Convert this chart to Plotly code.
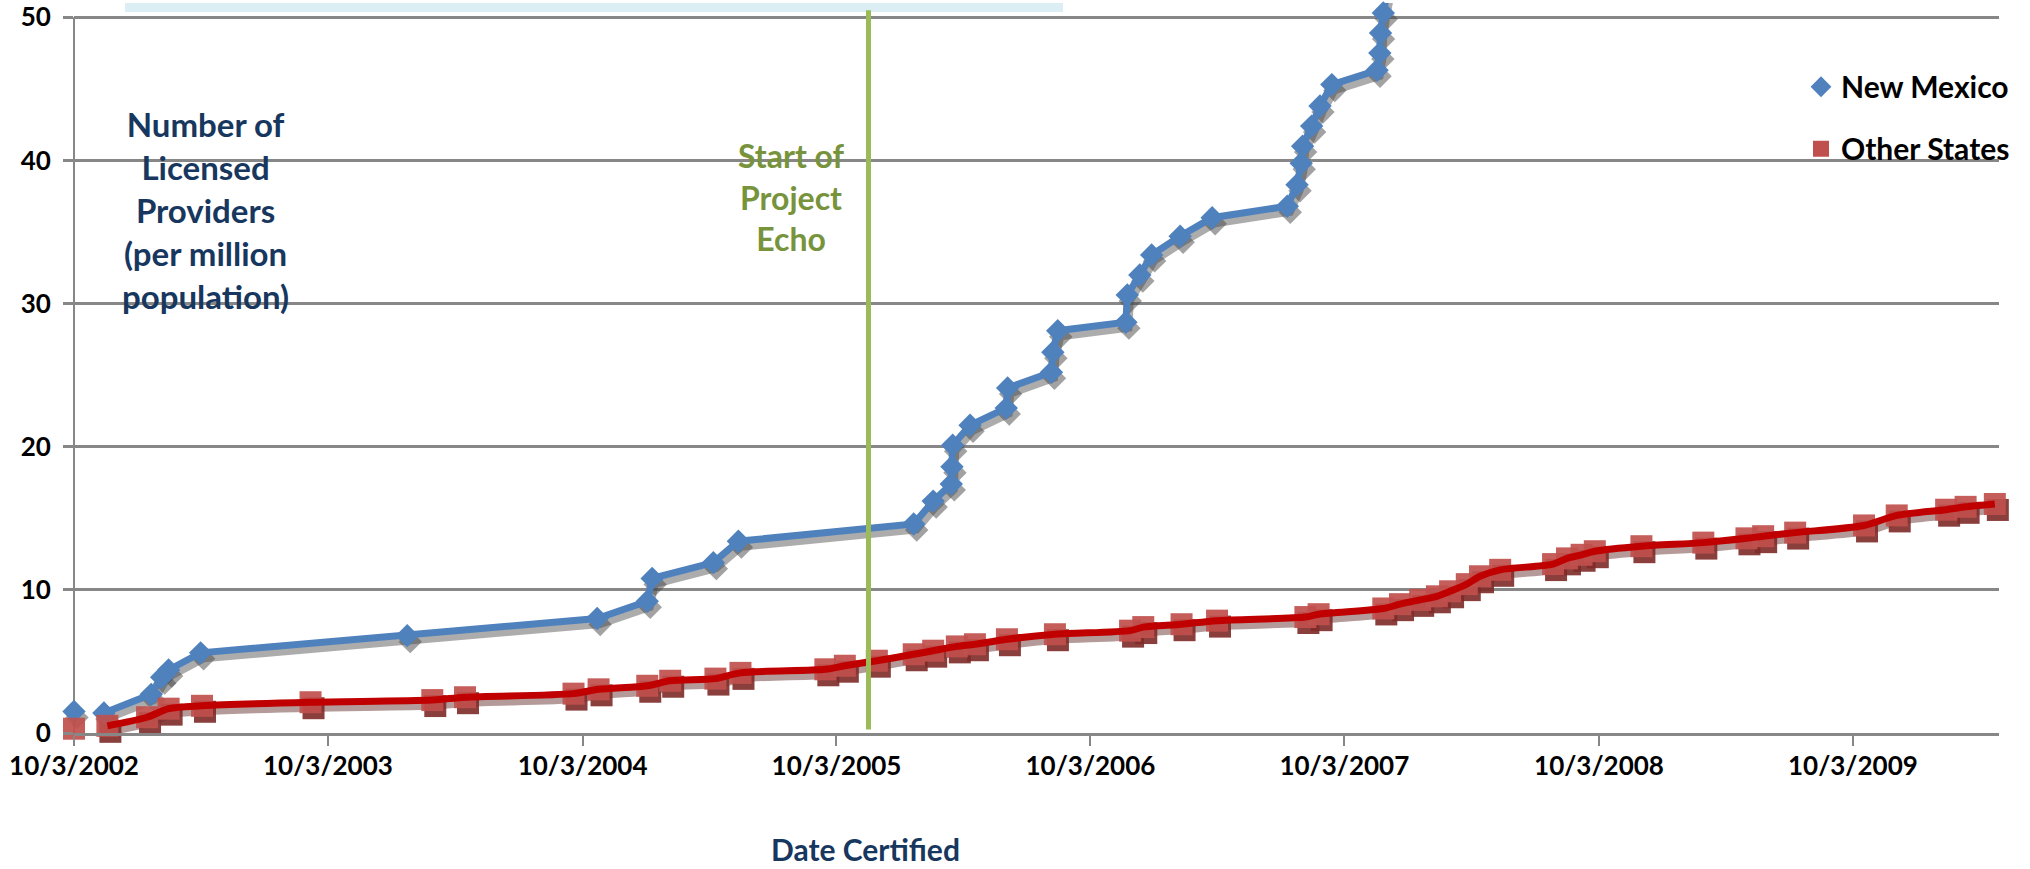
import plotly.graph_objects as go
import pandas as pd

# ---------------- data ----------------
nm_dates = [
    "2002-10-03", "2002-10-20",
    "2002-11-15", "2003-01-22", "2003-02-06", "2003-02-16", "2003-04-03",
    "2004-01-25", "2004-10-24", "2005-01-04", "2005-01-11", "2005-04-09",
    "2005-05-15", "2006-01-22", "2006-02-19", "2006-03-17", "2006-03-18",
    "2006-03-19", "2006-04-13", "2006-06-04", "2006-06-06", "2006-08-08",
    "2006-08-10", "2006-08-17", "2006-11-23", "2006-11-25", "2006-12-13",
    "2006-12-30", "2007-02-09", "2007-03-27", "2007-07-13", "2007-07-27",
    "2007-08-02", "2007-08-04", "2007-08-17", "2007-08-29", "2007-09-15",
    "2007-11-19", "2007-11-23", "2007-11-24", "2007-11-28", "2007-12-08",
    "2007-12-16",
]
nm_values = [
    1.5, None,
    1.4, 2.7, 3.9, 4.4, 5.6,
    6.8, 8.0, 9.2, 10.8, 11.9,
    13.4, 14.6, 16.2, 17.4, 18.6,
    20.1, 21.5, 22.7, 24.1, 25.2,
    26.6, 28.1, 28.7, 30.6, 32.0,
    33.4, 34.7, 36.0, 36.8, 38.3,
    39.8, 41.0, 42.4, 43.8, 45.3,
    46.3, 47.5, 48.9, 50.3, 52.5,
    55.0,
]

os_dates = [
    "2002-10-03", "2002-10-20",
    "2002-11-20", "2003-01-16", "2003-02-16", "2003-04-05", "2003-09-08",
    "2004-03-01", "2004-04-17", "2004-09-20", "2004-10-26", "2005-01-04",
    "2005-02-06", "2005-04-12", "2005-05-18", "2005-09-17", "2005-10-15",
    "2005-11-30", "2006-01-22", "2006-02-19", "2006-03-25", "2006-04-20",
    "2006-06-05", "2006-08-13", "2006-11-29", "2006-12-18", "2007-02-11",
    "2007-04-03", "2007-08-08", "2007-08-27", "2007-11-28", "2007-12-22",
    "2008-01-20", "2008-02-13", "2008-03-03", "2008-03-27", "2008-04-15",
    "2008-05-14", "2008-07-29", "2008-08-18", "2008-09-08", "2008-09-27",
    "2008-12-03", "2009-03-02", "2009-05-03", "2009-05-27", "2009-07-12",
    "2009-10-19", "2009-12-05", "2010-02-14", "2010-03-14", "2010-04-25",
]
os_values = [
    0.3, None,
    0.5, 1.1, 1.7, 1.9, 2.15,
    2.3, 2.5, 2.75, 3.05, 3.3,
    3.65, 3.8, 4.2, 4.45, 4.7,
    5.05, 5.5, 5.75, 6.05, 6.2,
    6.55, 6.9, 7.15, 7.4, 7.6,
    7.85, 8.1, 8.3, 8.7, 9.0,
    9.3, 9.55, 9.9, 10.4, 10.95,
    11.4, 11.8, 12.2, 12.45, 12.7,
    13.05, 13.3, 13.6, 13.75, 14.0,
    14.5, 15.2, 15.6, 15.8, 16.0,
]

tick_dates = ["2002-10-03", "2003-10-03", "2004-10-03", "2005-10-03",
              "2006-10-03", "2007-10-03", "2008-10-03", "2009-10-03"]
tick_labels = ["10/3/2002", "10/3/2003", "10/3/2004", "10/3/2005",
               "10/3/2006", "10/3/2007", "10/3/2008", "10/3/2009"]
y_ticks = [0, 10, 20, 30, 40, 50]
echo_start = "2005-11-18"
series_names = ["New Mexico", "Other States"]

# ---------------- layout constants ----------------
W, H = 2030, 869
ML, MR, MT, MB = 74, 31, 0, 136
PW, PH = W - ML - MR, H - MT - MB
X_RANGE = ["2002-10-03", "2010-05-01"]
Y_RANGE = [0, 51]

x0 = pd.Timestamp(X_RANGE[0])
x1 = pd.Timestamp(X_RANGE[1])
days = (x1 - x0).days
shift = pd.Timedelta(days=3 * days / PW)        # 3 px right
dv = 6 * (Y_RANGE[1] - Y_RANGE[0]) / PH          # 6 px down
X_SHADOW = [str(x0 - shift), str(x1 - shift)]
Y_SHADOW = [Y_RANGE[0] + dv, Y_RANGE[1] + dv]

FONT = "Lato"
NM_BLUE = "#4F81BD"
OS_RED_M = "#C0504D"
OS_RED_L = "#C00000"
GRID = "#878787"
NM_SIZE = 18
OS_SIZE = 22

fig = go.Figure()

# legend-only entries (marker symbols, as in the reference)
fig.add_trace(go.Scatter(x=[None], y=[None], mode="markers", name=series_names[0],
                         legendgroup="nm",
                         marker=dict(symbol="diamond", size=16, color=NM_BLUE)))
fig.add_trace(go.Scatter(x=[None], y=[None], mode="markers", name=series_names[1],
                         legendgroup="os",
                         marker=dict(symbol="square", size=16, color=OS_RED_M)))

# shadows (overlay axes with offset ranges)
fig.add_trace(go.Scatter(x=nm_dates, y=nm_values, mode="lines+markers",
                         xaxis="x2", yaxis="y2", showlegend=False, hoverinfo="skip",
                         cliponaxis=False, connectgaps=False,
                         line=dict(color="rgba(70,70,70,0.45)", width=7),
                         marker=dict(symbol="diamond", size=NM_SIZE, color="rgba(70,70,70,0.5)")))
fig.add_trace(go.Scatter(x=os_dates, y=os_values, mode="lines+markers",
                         xaxis="x2", yaxis="y2", showlegend=False, hoverinfo="skip",
                         cliponaxis=False, connectgaps=False,
                         line=dict(color="rgba(90,30,30,0.45)", width=7, shape="spline", smoothing=0.8),
                         marker=dict(symbol="square", size=OS_SIZE, color="rgba(125,42,40,0.9)")))

# main series
fig.add_trace(go.Scatter(x=nm_dates, y=nm_values, mode="lines+markers",
                         xaxis="x3", yaxis="y3", showlegend=False, name=series_names[0],
                         cliponaxis=False, connectgaps=False,
                         line=dict(color=NM_BLUE, width=7),
                         marker=dict(symbol="diamond", size=NM_SIZE, color=NM_BLUE)))
fig.add_trace(go.Scatter(x=os_dates, y=os_values, mode="markers",
                         xaxis="x3", yaxis="y3", showlegend=False, name=series_names[1],
                         cliponaxis=False,
                         marker=dict(symbol="square", size=OS_SIZE, color=OS_RED_M, opacity=0.92)))
fig.add_trace(go.Scatter(x=os_dates, y=os_values, mode="lines",
                         xaxis="x3", yaxis="y3", showlegend=False, name=series_names[1],
                         connectgaps=False,
                         line=dict(color=OS_RED_L, width=7, shape="spline", smoothing=0.8)))

tickfont = dict(family=FONT, size=26, color="black", weight="bold")

fig.update_layout(
    width=W, height=H,
    margin=dict(l=ML, r=MR, t=MT, b=MB, pad=0),
    paper_bgcolor="white", plot_bgcolor="white",
    showlegend=True,
    legend=dict(x=(1801 - ML) / PW, y=1 - 58 / PH, xanchor="left", yanchor="top",
                font=dict(family=FONT, size=30, color="black", weight="bold"),
                bgcolor="rgba(0,0,0,0)", tracegroupgap=20, itemwidth=30),
    xaxis=dict(type="date", range=X_RANGE, tickvals=tick_dates, ticktext=tick_labels,
               ticks="outside", ticklen=10, tickwidth=2, tickcolor=GRID,
               showgrid=False, showline=True, linecolor=GRID, linewidth=3,
               tickfont=tickfont, ticklabelstandoff=-2, zeroline=False, fixedrange=True),
    yaxis=dict(range=Y_RANGE, tickvals=y_ticks, ticks="outside", ticklen=10, tickwidth=3,
               tickcolor=GRID, showgrid=True, gridcolor=GRID, gridwidth=3,
               showline=False, zeroline=False, tickfont=tickfont, ticklabelstandoff=7,
               ticklabeloverflow="allow", fixedrange=True),
    xaxis2=dict(type="date", range=X_SHADOW, overlaying="x", anchor="y2", visible=False,
                showgrid=False, fixedrange=True),
    yaxis2=dict(range=Y_SHADOW, overlaying="y", anchor="x2", visible=False,
                showgrid=False, zeroline=False, fixedrange=True),
    xaxis3=dict(type="date", range=X_RANGE, overlaying="x", anchor="y3", visible=False,
                showgrid=False, fixedrange=True),
    yaxis3=dict(range=Y_RANGE, overlaying="y", anchor="x3", visible=False,
                showgrid=False, zeroline=False, fixedrange=True),
)

# y-axis line (only from 0 to 50)
fig.add_shape(type="line", xref="paper", yref="y", x0=0, x1=0, y0=0, y1=y_ticks[-1],
              line=dict(color=GRID, width=2), layer="below")
# pale title box remnant at the top
fig.add_shape(type="rect", xref="paper", yref="paper",
              x0=(125 - ML) / PW, x1=(1063 - ML) / PW, y0=1 - 9 / PH, y1=1.0,
              fillcolor="#DAEEF3", line=dict(width=0), layer="below")
# start of Project Echo
fig.add_shape(type="line", xref="x", yref="y", x0=echo_start, x1=echo_start,
              y0=0.25, y1=50.5, line=dict(color="#9BBB59", width=5), layer="above")

fig.add_annotation(text="Number of<br>Licensed<br>Providers<br>(per million<br>population)",
                   xref="paper", yref="paper", x=(205 - ML) / PW, y=1 - 208 / PH,
                   xanchor="center", yanchor="middle", showarrow=False, align="center",
                   font=dict(family=FONT, size=33, color="#17375E", weight="bold"))
fig.add_annotation(text="Start of<br>Project<br>Echo",
                   xref="paper", yref="paper", x=(791 - ML) / PW, y=1 - 195 / PH,
                   xanchor="center", yanchor="middle", showarrow=False, align="center",
                   font=dict(family=FONT, size=32, color="#77933C", weight="bold"))
fig.add_annotation(text="Date Certified",
                   xref="paper", yref="paper", x=(865 - ML) / PW, y=(PH - 849) / PH,
                   xanchor="center", yanchor="middle", showarrow=False,
                   font=dict(family=FONT, size=30, color="#17375E", weight="bold"))

fig.write_html("out.html")
